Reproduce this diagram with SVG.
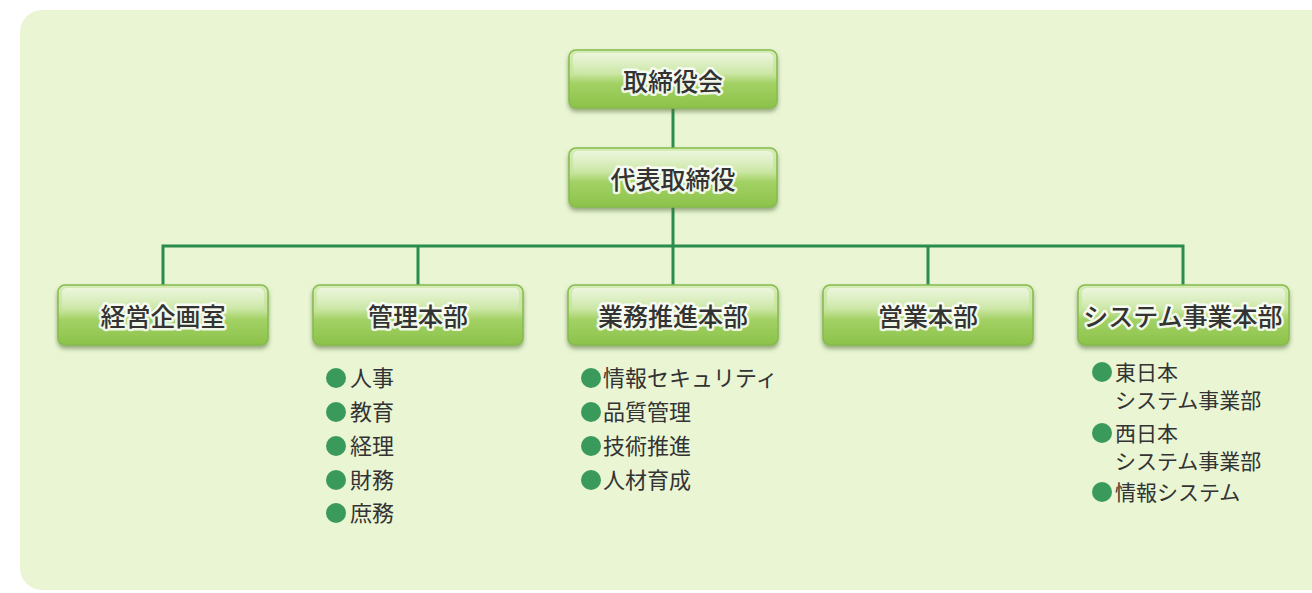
<svg xmlns="http://www.w3.org/2000/svg" width="1312" height="593" viewBox="0 0 1312 593">
<defs>
<linearGradient id="boxg" x1="0" y1="0" x2="0" y2="1">
<stop offset="0" stop-color="#d6ecb6"/>
<stop offset="0.42" stop-color="#c6e49c"/>
<stop offset="0.58" stop-color="#a2d164"/>
<stop offset="1" stop-color="#8cc24a"/>
</linearGradient>
<linearGradient id="hl" x1="0" y1="0" x2="0" y2="1">
<stop offset="0" stop-color="#ffffff" stop-opacity="0.55"/>
<stop offset="1" stop-color="#ffffff" stop-opacity="0.05"/>
</linearGradient>
<filter id="sh" x="-10%" y="-20%" width="120%" height="150%">
<feDropShadow dx="0" dy="3" stdDeviation="2" flood-color="#4f6b35" flood-opacity="0.55"/>
</filter>
</defs>
<style>
.bg{fill:#e9f5d3}
.box{fill:url(#boxg);stroke:#86bb4e;stroke-width:1.5;filter:url(#sh)}
.hl{fill:url(#hl)}
.bt{font-family:"Noto Sans CJK JP","Noto Sans",sans-serif;font-size:25px;font-weight:500;fill:#333333;stroke:#ffffff;stroke-width:5;stroke-opacity:0.85;stroke-linejoin:round;paint-order:stroke;text-anchor:middle;dominant-baseline:central}
.conn{stroke:#2a8c4e;stroke-width:3;fill:none}
.li{font-family:"Noto Sans CJK JP","Noto Sans",sans-serif;font-size:22px;fill:#333333}
.ls{font-family:"Noto Sans CJK JP","Noto Sans",sans-serif;font-size:21px;fill:#333333}
.dot{fill:#3a9a5c}
</style>
<rect class="bg" x="20" y="10" width="1320" height="580" rx="22"/>
<g id="connectors">
<line class="conn" x1="673" y1="108" x2="673" y2="148"/>
<line class="conn" x1="673" y1="207" x2="673" y2="285"/>
<polyline class="conn" points="163,285 163,246 1183,246 1183,285"/>
<line class="conn" x1="418" y1="246" x2="418" y2="285"/>
<line class="conn" x1="928" y1="246" x2="928" y2="285"/>
</g>
<g id="n-board">
<rect class="box" x="569" y="50" width="208" height="58" rx="7"/>
<rect class="hl" x="573" y="53" width="200" height="22" rx="5"/>
<text class="bt" x="673" y="80">取締役会</text>
</g>
<g id="n-ceo">
<rect class="box" x="569" y="148" width="208" height="59" rx="7"/>
<rect class="hl" x="573" y="151" width="200" height="22" rx="5"/>
<text class="bt" x="673" y="178">代表取締役</text>
</g>
<g id="n-plan">
<rect class="box" x="58" y="285" width="210" height="60" rx="7"/>
<rect class="hl" x="62" y="288" width="202" height="22" rx="5"/>
<text class="bt" x="163" y="315">経営企画室</text>
</g>
<g id="n-admin">
<rect class="box" x="313" y="285" width="210" height="60" rx="7"/>
<rect class="hl" x="317" y="288" width="202" height="22" rx="5"/>
<text class="bt" x="418" y="315">管理本部</text>
<circle class="dot" cx="336" cy="378" r="10"/>
<text class="li" x="350" y="386">人事</text>
<circle class="dot" cx="336" cy="412" r="10"/>
<text class="li" x="350" y="420">教育</text>
<circle class="dot" cx="336" cy="446" r="10"/>
<text class="li" x="350" y="454">経理</text>
<circle class="dot" cx="336" cy="480" r="10"/>
<text class="li" x="350" y="488">財務</text>
<circle class="dot" cx="336" cy="513" r="10"/>
<text class="li" x="350" y="521">庶務</text>
</g>
<g id="n-ops">
<rect class="box" x="568" y="285" width="210" height="60" rx="7"/>
<rect class="hl" x="572" y="288" width="202" height="22" rx="5"/>
<text class="bt" x="673" y="315">業務推進本部</text>
<circle class="dot" cx="591" cy="378" r="10"/>
<text class="li" x="603" y="386">情報セキュリティ</text>
<circle class="dot" cx="591" cy="412" r="10"/>
<text class="li" x="603" y="420">品質管理</text>
<circle class="dot" cx="591" cy="446" r="10"/>
<text class="li" x="603" y="454">技術推進</text>
<circle class="dot" cx="591" cy="480" r="10"/>
<text class="li" x="603" y="488">人材育成</text>
</g>
<g id="n-sales">
<rect class="box" x="823" y="285" width="210" height="60" rx="7"/>
<rect class="hl" x="827" y="288" width="202" height="22" rx="5"/>
<text class="bt" x="928" y="315">営業本部</text>
</g>
<g id="n-sys">
<rect class="box" x="1078" y="285" width="211" height="60" rx="7"/>
<rect class="hl" x="1082" y="288" width="203" height="22" rx="5"/>
<text class="bt" x="1183" y="315">システム事業本部</text>
<circle class="dot" cx="1102" cy="372" r="10"/>
<text class="ls" x="1115" y="380">東日本</text>
<text class="ls" x="1115" y="408">システム事業部</text>
<circle class="dot" cx="1102" cy="433" r="10"/>
<text class="ls" x="1115" y="441">西日本</text>
<text class="ls" x="1115" y="469">システム事業部</text>
<circle class="dot" cx="1102" cy="492" r="10"/>
<text class="ls" x="1115" y="500">情報システム</text>
</g>
</svg>
